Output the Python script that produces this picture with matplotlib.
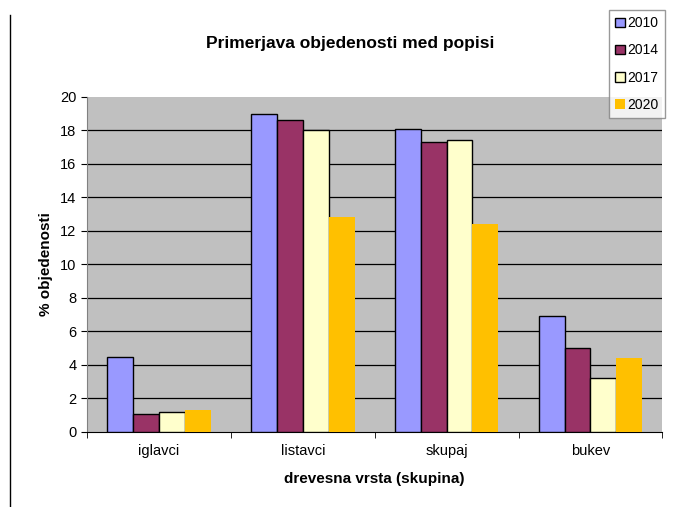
import matplotlib
matplotlib.use('Agg')
import matplotlib.pyplot as plt
import numpy as np
from matplotlib.lines import Line2D

plt.rcParams['font.family'] = ['Liberation Sans', 'DejaVu Sans']

# Podatki
categories = ['iglavci', 'listavci', 'skupaj', 'bukev']
years = ['2010', '2014', '2017', '2020']
v2010 = [4.5, 19.0, 18.1, 6.9]
v2014 = [1.1, 18.6, 17.3, 5.0]
v2017 = [1.2, 18.0, 17.4, 3.2]
v2020 = [1.3, 12.8, 12.4, 4.4]

series = [v2010, v2014, v2017, v2020]
colors = ['#9999FF', '#993366', '#FFFFCC', '#FFC000']
edges = ['black', 'black', 'black', 'none']

fig = plt.figure(figsize=(6.8, 5.07), dpi=100)
ax = fig.add_axes([0.128, 0.148, 0.846, 0.661])
ax.set_facecolor('#C0C0C0')

x = np.arange(len(categories))
w = 0.18
for i, (vals, c, e) in enumerate(zip(series, colors, edges)):
    ax.bar(x + (i - 1.5) * w, vals, width=w, color=c, edgecolor=e,
           linewidth=1.0, label=years[i], zorder=3)

# mreža
for yv in range(2, 20, 2):
    ax.axhline(yv, color='black', linewidth=0.9, zorder=1)

ax.set_xlim(-0.5, len(categories) - 0.5)
ax.set_ylim(0, 20)
ax.set_yticks(range(0, 21, 2))
ax.set_xticks(x)
ax.set_xticklabels(categories, fontsize=10.5)
ax.set_xticks(np.arange(-0.5, len(categories), 1), minor=True)
ax.tick_params(axis='x', which='major', length=0, pad=9)
ax.tick_params(axis='x', which='minor', length=4, direction='out')
ax.tick_params(axis='y', labelsize=10.5, length=4, direction='out')

for s in ['top', 'right']:
    ax.spines[s].set_visible(False)
ax.spines['left'].set_color('#808080')
ax.spines['bottom'].set_color('black')

ax.set_ylabel('% objedenosti', fontsize=11, fontweight='bold', labelpad=5)
ax.set_xlabel('drevesna vrsta (skupina)', fontsize=11, fontweight='bold', labelpad=10)
fig.text(0.515, 0.915, 'Primerjava objedenosti med popisi', ha='center', va='center',
         fontsize=12.5, fontweight='bold')

handles, labels = ax.get_legend_handles_labels()
leg = fig.legend(handles, labels, loc='upper right',
                 bbox_to_anchor=(665 / 680, 1 - 10 / 507), fontsize=10,
                 frameon=True, fancybox=False, edgecolor='#808080',
                 handlelength=0.7, handleheight=0.7, handletextpad=0.2,
                 labelspacing=0.95, borderpad=0.45, borderaxespad=0)
leg.get_frame().set_facecolor('white')

# navpična črta na levi
fig.add_artist(Line2D([10 / 680, 10 / 680], [0, 1 - 15 / 507],
                      color='black', linewidth=1.0, transform=fig.transFigure))

plt.savefig('out.png', dpi=100, facecolor='white')
